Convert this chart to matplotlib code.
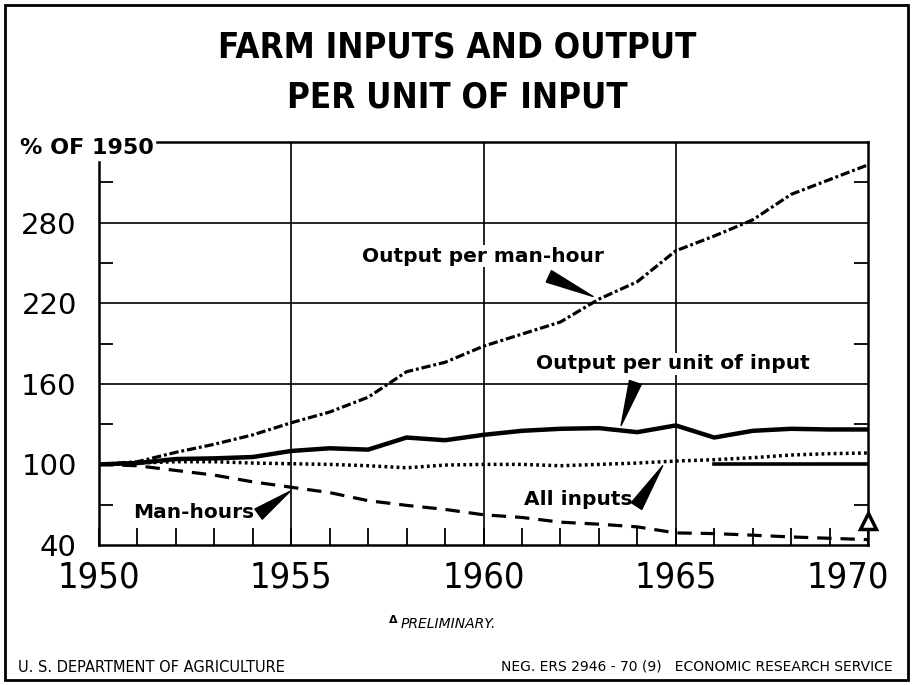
import matplotlib
matplotlib.use("Agg")
import matplotlib.pyplot as plt
from matplotlib.patches import Rectangle
from matplotlib.transforms import ScaledTranslation

years = list(range(1950, 1971))
output_per_manhour = [100, 102, 109, 115, 122, 131, 139, 150, 169, 176, 188,
                      197, 206, 223, 236, 259, 270, 282, 301, 312, 323]
output_per_unit_input = [100, 101, 104, 104.5, 105.5, 110, 112, 111, 120, 118, 122,
                         125, 126.5, 127, 124, 129, 120, 125, 126.5, 126, 126]
all_inputs = [100, 101, 102, 102, 101, 100.5, 100, 99, 97.5, 99.5, 100,
              100, 99, 100, 101, 102.5, 103.5, 105, 107, 108, 108.5]
man_hours = [100, 99, 95.5, 92, 87, 83, 79, 73, 69.5, 66.5, 62.5,
             60.5, 57, 55.5, 53.5, 49, 48.5, 47.3, 46, 45, 44]
ref_years = [1966, 1970]
ref_values = [100, 100]

y_major = [40, 100, 160, 220, 280]
y_minor = [70, 130, 190, 250, 310]

W, H = 914, 685
fig = plt.figure(figsize=(W / 100, H / 100), dpi=100)
ax = fig.add_axes([99 / W, 1 - 545 / H, (868 - 99) / W, (545 - 142) / H])

ax.set_xlim(1950, 1970)
ax.set_ylim(40, 340)

# lines
l1, = ax.plot(years, output_per_manhour, color="black", lw=2.3, solid_capstyle="butt")
l1.set_dashes([2.9, 0.9, 0.9, 0.9])
ax.plot(years, output_per_unit_input, color="black", lw=3.2, solid_joinstyle="round")
l3, = ax.plot(years, all_inputs, color="black", lw=2.5)
l3.set_dashes([0.8, 0.95])
l4, = ax.plot(years, man_hours, color="black", lw=2.3)
l4.set_dashes([4.5, 2.8])
ax.plot(ref_years, ref_values, color="black", lw=2.6)

# grid
for gx in [1955, 1960, 1965]:
    ax.axvline(gx, color="black", lw=1.2, zorder=0.5)
for gy in [160, 220, 280]:
    ax.axhline(gy, color="black", lw=1.2, zorder=0.5)

# spines
for s in ax.spines.values():
    s.set_linewidth(1.8)
ax.spines["top"].set_bounds(1951.5, 1970)
ax.spines["left"].set_bounds(40, 325)

# ticks
ax.set_xticks(years)
ax.set_xticklabels([str(y) if y % 5 == 0 else "" for y in years])
ax.tick_params(axis="x", direction="in", length=12, width=1.3, pad=11,
               labelsize=26, top=False)
for lab in ax.get_xticklabels():
    lab.set_fontfamily(["Liberation Sans Narrow", "DejaVu Sans"])
    lab.set_fontstretch("condensed")
last = ax.get_xticklabels()[-1]
last.set_transform(last.get_transform() + ScaledTranslation(-0.2, 0, fig.dpi_scale_trans))
ax.set_yticks(y_major)
ax.set_yticklabels([str(v) for v in y_major])
ax.set_yticks(y_minor, minor=True)
ax.tick_params(axis="y", which="major", length=0, pad=16, labelsize=21)
ax.tick_params(axis="y", which="minor", direction="in", length=10, width=1.3,
               left=True, right=True)

# preliminary marker
ax.plot([1970], [58], marker="^", ms=11, mfc="white", mec="black", mew=2.5,
        clip_on=False, zorder=5)

# labels with wedge pointers
bbox = dict(facecolor="white", edgecolor="none", pad=1)
lab_kw = dict(fontsize=14.5, fontweight="bold", ha="center", va="center", bbox=bbox)
ax.text(1959.99, 255, "Output per man-hour", **lab_kw)
ax.text(1964.93, 175, "Output per unit of input", **lab_kw)
ax.text(1962.47, 74, "All inputs", **lab_kw)
ax.text(1952.45, 64, "Man-hours", **lab_kw)

wedge = dict(arrowstyle="wedge,tail_width=0.9", fc="black", ec="black", shrinkA=0, shrinkB=0)
ax.annotate("", xy=(1962.85, 225), xytext=(1961.7, 240), arrowprops=wedge, annotation_clip=False)
ax.annotate("", xy=(1963.58, 129), xytext=(1963.95, 161), arrowprops=wedge, annotation_clip=False)
ax.annotate("", xy=(1964.66, 99), xytext=(1963.98, 69), arrowprops=wedge, annotation_clip=False)
ax.annotate("", xy=(1954.97, 80), xytext=(1954.15, 63), arrowprops=wedge, annotation_clip=False)

# titles and texts
title_font = ["Liberation Sans Narrow", "DejaVu Sans"]
fig.text(0.5, 1 - 48 / H, "FARM INPUTS AND OUTPUT", ha="center", va="center",
         fontsize=25, fontweight="bold", family=title_font, fontstretch="condensed")
fig.text(0.5, 1 - 98 / H, "PER UNIT OF INPUT", ha="center", va="center",
         fontsize=25, fontweight="bold", family=title_font, fontstretch="condensed")
fig.text(20 / W, 1 - 148 / H, "% OF 1950", ha="left", va="center",
         fontsize=16, fontweight="bold")
fig.text(389 / W, 1 - 620 / H, "\u0394", ha="left", va="center", fontsize=8, fontweight="bold")
fig.text(401 / W, 1 - 624 / H, "PRELIMINARY.", ha="left", va="center",
         fontsize=10, style="italic")
fig.text(18 / W, 1 - 667 / H, "U. S. DEPARTMENT OF AGRICULTURE", ha="left", va="center",
         fontsize=10.5)
fig.text(893 / W, 1 - 667 / H, "NEG. ERS 2946 - 70 (9)   ECONOMIC RESEARCH SERVICE",
         ha="right", va="center", fontsize=10)

fig.patches.append(Rectangle((5 / W, 5 / H), 903 / W, 675 / H, transform=fig.transFigure,
                             fill=False, lw=2, ec="black"))

fig.savefig("out.png", dpi=100)
